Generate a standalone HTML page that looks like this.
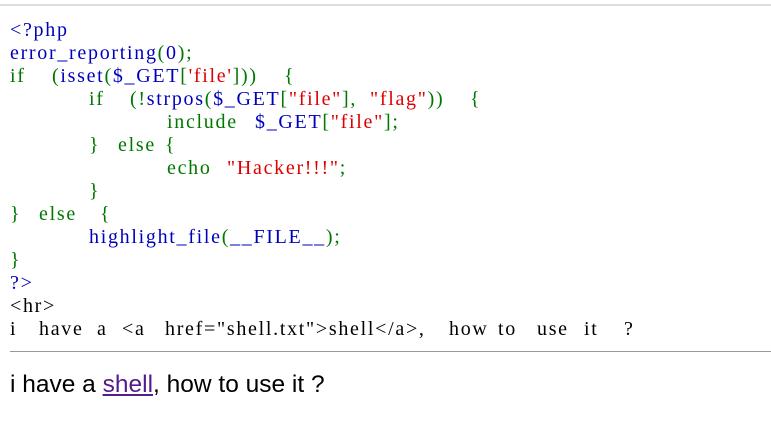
<!DOCTYPE html>
<html><head><meta charset="utf-8"><style>
body{margin:0;width:771px;height:422px;background:#fff;position:relative;overflow:hidden;font-family:"Liberation Serif","Noto Serif CJK SC",serif;font-size:20px;letter-spacing:1.7px;}
.top{position:absolute;left:0;top:4px;width:771px;height:2px;background:#ddd;}
.l{position:absolute;height:23px;line-height:23px;white-space:pre;}
.b{color:#0000BB}.g{color:#007700}.r{color:#DD0000}.k{color:#000}
hr{position:absolute;left:10px;top:351px;width:761px;margin:0;border:0;border-top:1px solid #999;}
.t{position:absolute;left:10px;top:371px;font-family:"Liberation Sans",sans-serif;font-size:24.5px;letter-spacing:0;color:#000;white-space:pre;}
.t a{color:#551A8B;text-decoration:underline;}
</style></head><body>
<div class="top"></div>
<div class="l b" style="left:10px;top:19px">&lt;?php</div>
<div class="l b" style="left:10px;top:42px">error_reporting<span class="g">(</span>0<span class="g">);</span></div>
<div class="l g" style="left:10px;top:65px">if</div>
<div class="l g" style="left:52px;top:65px">(<span class="b">isset</span>(<span class="b">$_GET</span>[<span class="r">'file'</span>]))</div>
<div class="l g" style="left:284px;top:65px">{</div>
<div class="l g" style="left:89px;top:88px">if</div>
<div class="l g" style="left:130px;top:88px">(!<span class="b">strpos</span>(<span class="b">$_GET</span>[<span class="r">"file"</span>],</div>
<div class="l r" style="left:370px;top:88px">"flag"<span class="g">))</span></div>
<div class="l g" style="left:470px;top:88px">{</div>
<div class="l g" style="left:167px;top:111px">include</div>
<div class="l b" style="left:255px;top:111px">$_GET<span class="g">[</span><span class="r">"file"</span><span class="g">];</span></div>
<div class="l g" style="left:89px;top:134px">}</div>
<div class="l g" style="left:118px;top:134px">else</div>
<div class="l g" style="left:165px;top:134px">{</div>
<div class="l g" style="left:167px;top:157px">echo</div>
<div class="l r" style="left:227px;top:157px">"Hacker!!!"<span class="g">;</span></div>
<div class="l g" style="left:89px;top:180px">}</div>
<div class="l g" style="left:10px;top:203px">}</div>
<div class="l g" style="left:39px;top:203px">else</div>
<div class="l g" style="left:100px;top:203px">{</div>
<div class="l b" style="left:89px;top:226px">highlight_file<span class="g">(</span>__FILE__<span class="g">);</span></div>
<div class="l g" style="left:10px;top:249px">}</div>
<div class="l b" style="left:10px;top:272px">?&gt;</div>
<div class="l k" style="left:10px;top:295px">&lt;hr&gt;</div>
<div class="l k" style="left:10px;top:318px">i</div>
<div class="l k" style="left:39px;top:318px">have</div>
<div class="l k" style="left:97px;top:318px">a</div>
<div class="l k" style="left:122px;top:318px">&lt;a</div>
<div class="l k" style="left:165px;top:318px">href="shell.txt"&gt;shell&lt;/a&gt;,</div>
<div class="l k" style="left:449px;top:318px">how</div>
<div class="l k" style="left:498px;top:318px">to</div>
<div class="l k" style="left:537px;top:318px">use</div>
<div class="l k" style="left:584px;top:318px">it</div>
<div class="l k" style="left:624px;top:318px">?</div>
<hr>
<div class="t">i have a <a>shell</a>, how to use it ?</div>
</body></html>
